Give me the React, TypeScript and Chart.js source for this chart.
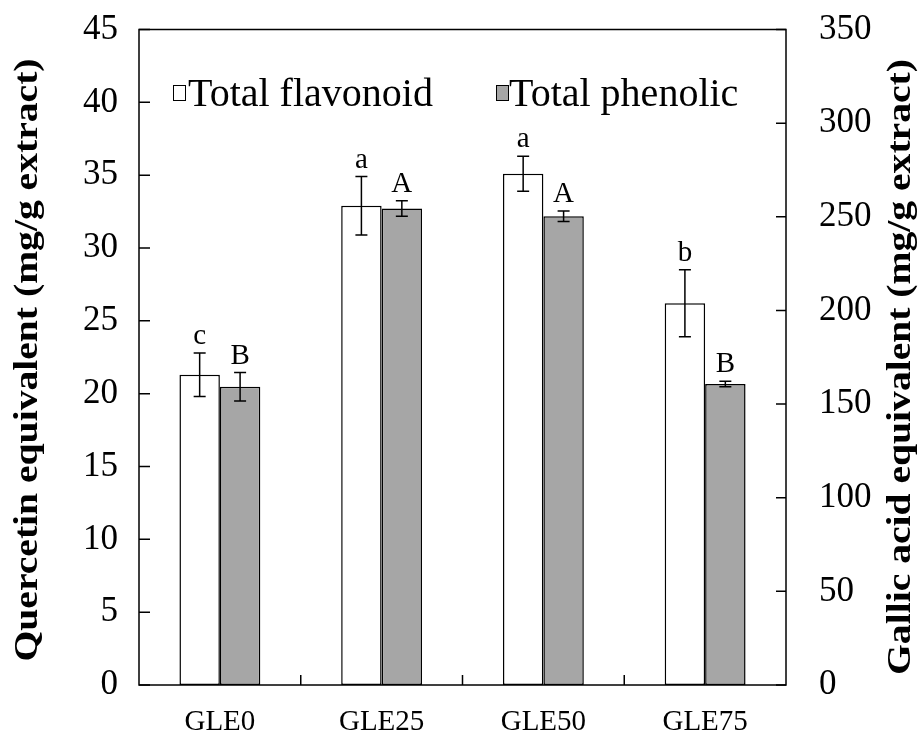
import React, { useEffect, useRef } from "react";
import { Chart, registerables } from "chart.js";

Chart.register(...registerables);

const categories = ["GLE0", "GLE25", "GLE50", "GLE75"];
const flavonoid = [21.3, 32.9, 35.1, 26.2];
const flavonoidErr = [1.5, 2.0, 1.2, 2.3];
const flavonoidLetters = ["c", "a", "a", "b"];
const phenolic = [159.2, 254.4, 250.3, 160.7];
const phenolicErr = [7.6, 4.1, 2.8, 1.5];
const phenolicLetters = ["B", "A", "A", "B"];
const seriesLabels = ["Total flavonoid", "Total phenolic"];
const leftTitle = "Quercetin equivalent (mg/g extract)";
const rightTitle = "Gallic acid equivalent (mg/g extract)";
const leftRange = [0, 45, 5];
const rightRange = [0, 350, 50];

const FONT = "'Liberation Serif', 'Times New Roman', serif";

const framePlugin = {
  id: "frame",
  afterDraw(chart: any) {
    const { ctx, chartArea: a, scales } = chart;
    ctx.save();
    ctx.strokeStyle = "#000";
    ctx.lineWidth = 1.5;
    ctx.strokeRect(a.left, a.top, a.right - a.left, a.bottom - a.top);
    ctx.beginPath();
    scales.y.ticks.forEach((t: any) => {
      const y = scales.y.getPixelForValue(t.value);
      ctx.moveTo(a.left, y);
      ctx.lineTo(a.left + 11, y);
    });
    scales.y1.ticks.forEach((t: any) => {
      const y = scales.y1.getPixelForValue(t.value);
      ctx.moveTo(a.right - 10, y);
      ctx.lineTo(a.right, y);
    });
    for (let i = 1; i < categories.length; i++) {
      const x = (scales.x.getPixelForValue(i - 1) + scales.x.getPixelForValue(i)) / 2;
      ctx.moveTo(x, a.bottom);
      ctx.lineTo(x, a.bottom - 10);
    }
    ctx.stroke();

    const drawTitle = (text: string, x: number, y: number) => {
      ctx.save();
      ctx.translate(x, y);
      ctx.rotate(-Math.PI / 2);
      ctx.scale(1.2, 1);
      ctx.font = `bold 33px ${FONT}`;
      ctx.fillStyle = "#000";
      ctx.textAlign = "center";
      ctx.textBaseline = "middle";
      ctx.fillText(text, 0, 0);
      ctx.restore();
    };
    drawTitle(leftTitle, 28, 360);
    drawTitle(rightTitle, 901, 367);

    const items = [
      { x: 173, tx: 188 },
      { x: 496, tx: 509 },
    ];
    chart.data.datasets.forEach((ds: any, i: number) => {
      const it = items[i];
      ctx.fillStyle = ds.backgroundColor;
      ctx.fillRect(it.x, 85, 12, 15);
      ctx.lineWidth = 1;
      ctx.strokeStyle = "#000";
      ctx.strokeRect(it.x + 0.5, 85.5, 12, 15);
      ctx.fillStyle = "#000";
      ctx.font = `40px ${FONT}`;
      ctx.textAlign = "left";
      ctx.textBaseline = "alphabetic";
      ctx.fillText(ds.label, it.tx, 106);
    });
    ctx.restore();
  },
};

const errorPlugin = {
  id: "errbars",
  afterDatasetsDraw(chart: any) {
    const { ctx } = chart;
    ctx.save();
    chart.data.datasets.forEach((ds: any, di: number) => {
      const meta = chart.getDatasetMeta(di);
      const scale = chart.scales[ds.yAxisID];
      meta.data.forEach((bar: any, i: number) => {
        const v = ds.data[i];
        const e = ds.errors[i];
        const yT = scale.getPixelForValue(v + e);
        const yB = scale.getPixelForValue(v - e);
        const x = bar.x;
        ctx.strokeStyle = "#000";
        ctx.lineWidth = 1.5;
        ctx.beginPath();
        ctx.moveTo(x, yT);
        ctx.lineTo(x, yB);
        ctx.moveTo(x - 6, yT);
        ctx.lineTo(x + 6, yT);
        ctx.moveTo(x - 6, yB);
        ctx.lineTo(x + 6, yB);
        ctx.stroke();
        ctx.fillStyle = "#000";
        ctx.font = `29px ${FONT}`;
        ctx.textAlign = "center";
        ctx.textBaseline = "alphabetic";
        ctx.fillText(ds.letters[i], x, yT - 9);
      });
    });
    ctx.restore();
  },
};

const noPad = (s: any) => {
  s.paddingTop = 0;
  s.paddingBottom = 0;
  s.paddingLeft = 0;
  s.paddingRight = 0;
};

export default function App() {
  const ref = useRef<HTMLCanvasElement | null>(null);
  useEffect(() => {
    document.body.style.margin = "0";
    const canvas = ref.current;
    if (!canvas) return;
    const chart = new Chart(canvas, {
      type: "bar",
      data: {
        labels: categories,
        datasets: [
          {
            label: seriesLabels[0],
            data: flavonoid,
            errors: flavonoidErr,
            letters: flavonoidLetters,
            yAxisID: "y",
            backgroundColor: "#ffffff",
            borderColor: "#000000",
            borderWidth: 1.5,
            borderSkipped: false,
          } as any,
          {
            label: seriesLabels[1],
            data: phenolic,
            errors: phenolicErr,
            letters: phenolicLetters,
            yAxisID: "y1",
            backgroundColor: "#a6a6a6",
            borderColor: "#000000",
            borderWidth: 1.5,
            borderSkipped: false,
          } as any,
        ],
      },
      options: {
        responsive: false,
        animation: false,
        devicePixelRatio: 1,
        layout: { padding: { top: 29.5, left: 0, right: 0, bottom: 0 } },
        datasets: { bar: { categoryPercentage: 0.5, barPercentage: 1.0 } },
        plugins: { legend: { display: false }, tooltip: { enabled: false } },
        scales: {
          x: {
            grid: { display: false, drawTicks: false },
            border: { display: false },
            ticks: { color: "#000", font: { family: FONT, size: 29 }, padding: 20 },
            afterFit: (s: any) => { s.height = 52; noPad(s); },
          },
          y: {
            position: "left",
            min: leftRange[0],
            max: leftRange[1],
            grid: { display: false, drawTicks: false },
            border: { display: false },
            ticks: { stepSize: leftRange[2], color: "#000", font: { family: FONT, size: 35 }, padding: 21 },
            afterFit: (s: any) => { s.width = 139; noPad(s); },
          },
          y1: {
            position: "right",
            min: rightRange[0],
            max: rightRange[1],
            grid: { display: false, drawTicks: false },
            border: { display: false },
            ticks: { stepSize: rightRange[2], color: "#000", font: { family: FONT, size: 35 }, padding: 33 },
            afterFit: (s: any) => { s.width = 137; noPad(s); },
          },
        },
      },
      plugins: [errorPlugin, framePlugin],
    });
    return () => chart.destroy();
  }, []);
  return <canvas ref={ref} width={923} height={737} style={{ display: "block" }} />;
}
